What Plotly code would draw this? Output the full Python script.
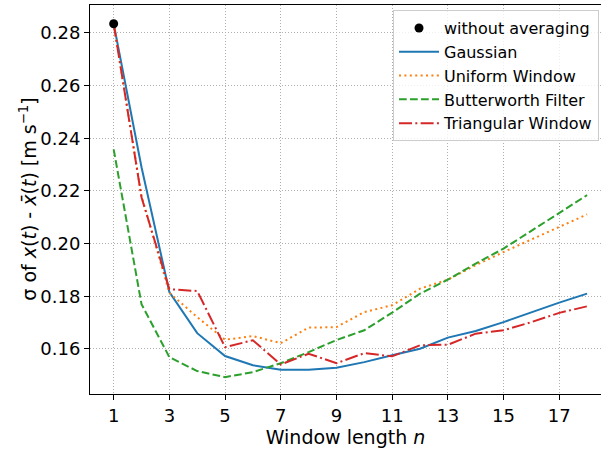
import plotly.graph_objects as go

n = list(range(1, 19))
no_avg_n = [1]
no_avg_val = [0.2835]
gaussian = [0.2835, 0.229, 0.1816, 0.166, 0.1573, 0.1538, 0.1521, 0.1521, 0.1529,
            0.155, 0.1576, 0.1601, 0.1643, 0.1668, 0.1702, 0.174, 0.1776, 0.181]
uniform = [0.2835, 0.218, 0.1813, 0.1721, 0.1635, 0.1649, 0.1622, 0.1681, 0.1683,
           0.174, 0.1766, 0.1829, 0.1863, 0.1918, 0.1968, 0.2016, 0.2064, 0.2111]
butterworth = [0.2358, 0.177, 0.1569, 0.1516, 0.1493, 0.1512, 0.1546, 0.1588, 0.1634,
               0.1671, 0.1738, 0.181, 0.1863, 0.1924, 0.1981, 0.2048, 0.2114, 0.2184]
triangular = [0.2835, 0.2176, 0.1827, 0.182, 0.1607, 0.1633, 0.1541, 0.1582, 0.1546,
              0.1584, 0.1572, 0.1614, 0.1616, 0.1658, 0.1671, 0.1702, 0.1737, 0.1762]

x_ticks = [1, 3, 5, 7, 9, 11, 13, 15, 17]
y_ticks = [0.16, 0.18, 0.20, 0.22, 0.24, 0.26, 0.28]
y_tick_labels = ["0.16", "0.18", "0.20", "0.22", "0.24", "0.26", "0.28"]

FONT = "DejaVu Sans"

fig = go.Figure()
fig.add_trace(go.Scatter(x=n, y=gaussian, mode="lines", name="Gaussian", legendrank=2,
                         line=dict(color="#1f77b4", width=2)))
fig.add_trace(go.Scatter(x=n, y=uniform, mode="lines", name="Uniform Window", legendrank=3,
                         line=dict(color="#ff7f0e", width=2, dash="2px,3.4px")))
fig.add_trace(go.Scatter(x=n, y=butterworth, mode="lines", name="Butterworth Filter", legendrank=4,
                         line=dict(color="#2ca02c", width=2, dash="7.7px,3.3px")))
fig.add_trace(go.Scatter(x=n, y=triangular, mode="lines", name="Triangular Window", legendrank=5,
                         line=dict(color="#d62728", width=2, dash="13px,3.3px,2px,3.3px")))
fig.add_trace(go.Scatter(x=no_avg_n, y=no_avg_val, mode="markers", name="without averaging",
                         legendrank=1, marker=dict(color="black", size=9)))

fig.update_layout(
    width=601, height=450,
    margin=dict(l=90, r=0, t=5, b=56),
    paper_bgcolor="white", plot_bgcolor="white",
    font=dict(family=FONT, size=18, color="black"),
    showlegend=True,
    legend=dict(x=0.593, y=0.987, xanchor="left", yanchor="top",
                bgcolor="rgba(255,255,255,0.8)", bordercolor="#cccccc", borderwidth=1,
                font=dict(family=FONT, size=16, color="black"),
                itemwidth=40, tracegroupgap=0, traceorder="normal"),
    annotations=[dict(
        text="σ of <i>x</i>(<i>t</i>) - <i>x̄</i>(<i>t</i>) [m s<sup>−1</sup>]",
        xref="paper", yref="paper", x=-0.123, y=0.5, xanchor="center", yanchor="middle",
        textangle=-90, showarrow=False, font=dict(family=FONT, size=19, color="black"))],
)

fig.update_xaxes(
    range=[0.15, 18.5], tickvals=x_ticks, ticktext=[str(v) for v in x_ticks],
    ticks="outside", ticklen=5, tickcolor="black", tickwidth=1,
    showline=True, linecolor="black", linewidth=1, mirror=True,
    showgrid=True, gridcolor="#b0b0b0", griddash="1px,2px", gridwidth=1,
    zeroline=False,
    title=dict(text="Window length <i>n</i>", standoff=6, font=dict(family=FONT, size=19)),
    tickfont=dict(family=FONT, size=18),
)
fig.update_yaxes(
    range=[0.1429, 0.2906], tickvals=y_ticks, ticktext=y_tick_labels,
    ticks="outside", ticklen=5, tickcolor="black", tickwidth=1,
    showline=True, linecolor="black", linewidth=1, mirror=False,
    showgrid=True, gridcolor="#b0b0b0", griddash="1px,2px", gridwidth=1,
    zeroline=False,
    tickfont=dict(family=FONT, size=18),
)

fig.write_html("out.html", config={"displayModeBar": False},
               post_script="document.body.style.margin='0px';document.body.style.overflow='hidden';")
